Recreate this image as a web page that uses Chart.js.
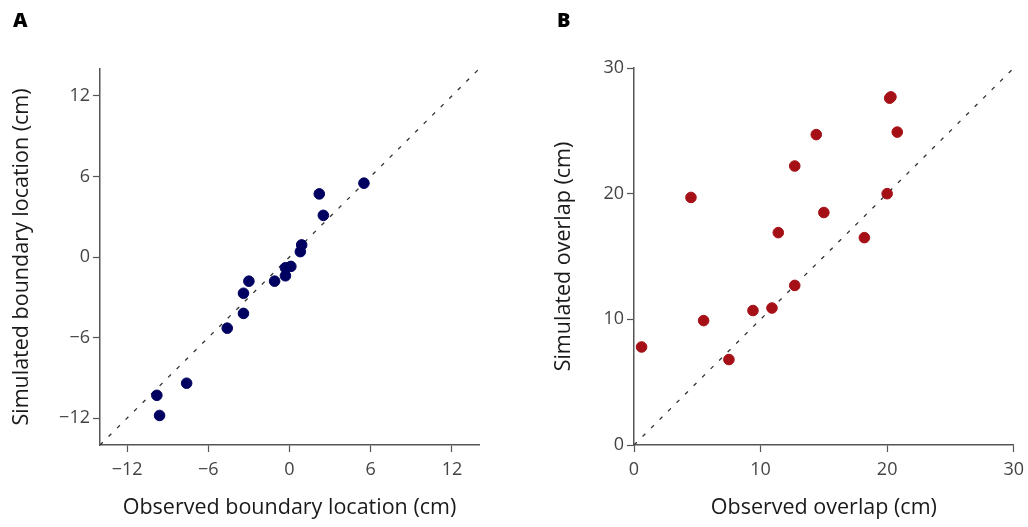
<!DOCTYPE html>
<html>
<head>
<meta charset="utf-8">
<script src="https://cdn.jsdelivr.net/npm/chart.js@4/dist/chart.umd.min.js"></script>
<style>
  body { margin: 0; background: #fff; width: 1028px; height: 527px; position: relative; overflow: hidden; }
  .panel { position: absolute; top: 0; width: 514px; height: 527px; }
  .tag { position: absolute; top: 6px; font: 800 20px "Open Sans", sans-serif; color: #000; }
</style>
</head>
<body>
<div class="panel" style="left:0"><canvas id="chartA"></canvas></div>
<div class="panel" style="left:514px; width:517px"><canvas id="chartB"></canvas></div>
<div class="tag" style="left:13px">A</div>
<div class="tag" style="left:557px">B</div>
<script>
// Panel A: boundary location (cm)
const boundaryObserved = [5.5, 2.2, 2.5, 0.9, 0.8, 0.1, -0.3, -0.3, -1.1, -3.0, -3.4, -3.4, -4.6, -7.6, -9.8, -9.6]
const boundarySimulated = [5.5, 4.7, 3.1, 0.9, 0.4, -0.7, -0.8, -1.4, -1.8, -1.8, -2.7, -4.2, -5.3, -9.4, -10.3, -11.8]
const boundaryTicks = [-12, -6, 0, 6, 12]

// Panel B: overlap (cm)
const overlapObserved = [0.6, 4.5, 5.5, 7.5, 9.4, 10.9, 11.4, 12.7, 12.7, 14.4, 15.0, 18.2, 20.0, 20.2, 20.3, 20.8]
const overlapSimulated = [7.8, 19.7, 9.9, 6.8, 10.7, 10.9, 16.9, 12.7, 22.2, 24.7, 18.5, 16.5, 20.0, 27.6, 27.7, 24.9]
const overlapTicks = [0, 10, 20, 30]

const font = "'Open Sans', sans-serif"
const axisColor = "#555"

function toPoints(xs, ys) {
  return xs.map((x, i) => ({ x: x, y: ys[i] }))
}

function axis(opts) {
  return {
    type: "linear",
    min: opts.min,
    max: opts.max,
    afterBuildTicks: (s) => { s.ticks = opts.ticks.map(v => ({ value: v })) },
    afterFit: (s) => {
      if (opts.width) s.width = opts.width
      if (opts.height) s.height = opts.height
    },
    grid: { drawOnChartArea: false, drawTicks: true, tickLength: 7, tickColor: axisColor, tickWidth: 1.2 },
    border: { color: axisColor, width: 1.5 },
    ticks: {
      color: "#444",
      padding: opts.tickPad,
      font: { family: font, size: 18 },
      callback: (v) => String(v).replace("-", "\u2212")
    },
    title: {
      display: true,
      text: opts.title,
      color: "#1a1a1a",
      font: { family: font, size: 21.5 },
      padding: opts.titlePad
    }
  }
}

function scatter(id, xs, ys, color, range, ticks, labels, pad, yWidth) {
  new Chart(document.getElementById(id), {
    type: "scatter",
    data: {
      datasets: [
        {
          data: toPoints(xs, ys),
          backgroundColor: color,
          borderColor: color,
          pointRadius: 5.3,
          pointHoverRadius: 5.3
        },
        {
          type: "line",
          data: toPoints(range, range),
          borderColor: "#333",
          borderWidth: 1.3,
          borderDash: [4, 8],
          pointRadius: 0,
          fill: false
        }
      ]
    },
    options: {
      responsive: true,
      maintainAspectRatio: false,
      animation: false,
      events: [],
      layout: { padding: pad },
      plugins: { legend: { display: false }, tooltip: { enabled: false } },
      scales: {
        x: axis({ min: range[0], max: range[1], ticks: ticks, title: labels[0], height: 82, tickPad: 7, titlePad: { top: 0, bottom: 6 } }),
        y: axis({ min: range[0], max: range[1], ticks: ticks, title: labels[1], width: yWidth, tickPad: 3, titlePad: { top: 9, bottom: 0 } })
      }
    }
  })
}

scatter("chartA", boundaryObserved, boundarySimulated, "#000060", [-14, 14], boundaryTicks,
  ["Observed boundary location (cm)", "Simulated boundary location (cm)"],
  { left: 0, top: 69, right: 35, bottom: 0 }, 100)

scatter("chartB", overlapObserved, overlapSimulated, "#a51016", [0, 30], overlapTicks,
  ["Observed overlap (cm)", "Simulated overlap (cm)"],
  { left: 28, top: 68, right: 14, bottom: 0 }, 92)
</script>
</body>
</html>
